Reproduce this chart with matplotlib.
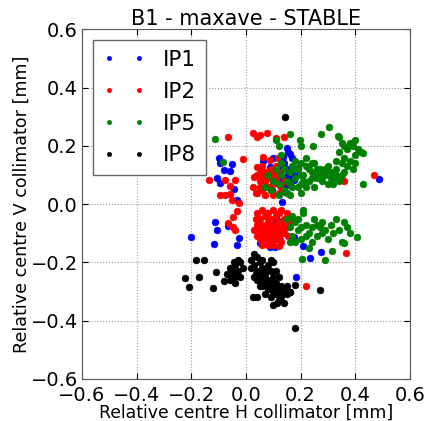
import matplotlib
matplotlib.use('Agg')
import matplotlib.pyplot as plt

# desplazamiento relativo del centro de los colimadores (H, V) en mm, por IP
ip1_h = [-0.20, -0.10, -0.095, -0.082, -0.107, -0.095, -0.115, -0.107, -0.116, -0.043,
         -0.033, -0.027, -0.033, -0.051, -0.058, -0.065, 0.488, 0.208, 0.235, 0.276,
         0.183, 0.131, 0.088, 0.108, 0.149, 0.161, 0.170, 0.137, 0.100, 0.064,
         0.113, 0.131, 0.149, 0.143, 0.076, 0.088, 0.161, 0.174, 0.192, 0.125,
         0.076, 0.064, 0.125, 0.137, 0.149, 0.113, 0.052, 0.174, 0.155, 0.120,
         0.140, 0.150, 0.165, 0.130, 0.105, 0.095, 0.180, 0.155]
ip1_v = [-0.114, 0.16, 0.14, 0.117, 0.089, 0.074, -0.062, -0.089, -0.137, 0.053,
         0.014, -0.115, -0.14, 0.138, 0.115, -0.074, 0.085, -0.142, -0.184, -0.165,
         -0.251, 0.009, -0.148, -0.146, 0.194, 0.172, 0.157, 0.163, 0.158, 0.147,
         0.106, 0.089, 0.066, 0.043, 0.106, 0.129, 0.117, 0.083, 0.123, 0.129,
         -0.031, -0.100, -0.123, -0.100, -0.077, -0.054, -0.134, -0.112, 0.100, 0.070,
         0.140, 0.120, 0.095, 0.060, 0.075, 0.050, 0.100, 0.180]

ip2_h = [-0.134, -0.065, -0.009, 0.027, 0.040, 0.052, 0.076, 0.110, 0.139, -0.075,
         -0.058, -0.040, -0.076, -0.058, -0.052, -0.094, -0.064, -0.046, -0.040, -0.031,
         -0.024, -0.046, 0.468, 0.359, 0.365, 0.220, 0.040, 0.031, 0.027, 0.040,
         0.064, 0.088, 0.119,
         0.05, 0.06, 0.07, 0.08, 0.09, 0.10, 0.11, 0.12, 0.13, 0.06,
         0.05, 0.07, 0.09, 0.10, 0.12, 0.08, 0.04, 0.11, 0.06, 0.14,
         0.035, 0.07, 0.10, 0.05,
         0.04, 0.05, 0.06, 0.07, 0.08, 0.09, 0.10, 0.11, 0.12, 0.13, 0.14, 0.15,
         0.04, 0.05, 0.06, 0.07, 0.08, 0.09, 0.10, 0.11, 0.12, 0.13, 0.14, 0.15,
         0.04, 0.05, 0.06, 0.07, 0.08, 0.09, 0.10, 0.11, 0.12, 0.13, 0.14, 0.06,
         0.08, 0.10, 0.12, 0.03, 0.035, 0.16, 0.155, 0.075, 0.095, 0.105,
         0.085, 0.115, 0.065, 0.125]
ip2_v = [0.083, 0.232, 0.156, 0.243, 0.232, 0.237, 0.243, 0.227, 0.232, 0.083,
         0.064, 0.083, 0.031, 0.035, 0.014, 0.031, -0.066, -0.043, -0.089, -0.022,
         0.003, -0.080, 0.101, 0.078, -0.169, -0.281, 0.129, 0.094, 0.060, 0.037,
         0.163, 0.152, 0.157,
         0.12, 0.10, 0.08, 0.06, 0.05, 0.07, 0.09, 0.11, 0.06, 0.05,
         0.08, 0.11, 0.12, 0.10, 0.04, 0.09, 0.10, 0.13, 0.13, 0.08,
         0.04, 0.03, 0.03, 0.06,
         -0.03, -0.05, -0.02, -0.04, -0.03, -0.05, -0.02, -0.04, -0.03, -0.02, -0.05, -0.03,
         -0.07, -0.09, -0.07, -0.08, -0.06, -0.09, -0.07, -0.08, -0.06, -0.09, -0.07, -0.08,
         -0.11, -0.12, -0.10, -0.12, -0.11, -0.13, -0.10, -0.12, -0.11, -0.13, -0.10, -0.14,
         -0.14, -0.14, -0.145, -0.09, -0.05, -0.06, -0.11, -0.10, -0.115, -0.09,
         -0.085, -0.10, -0.085, -0.085]

ip5_h = [0.12, 0.13, 0.14, 0.15, 0.16, 0.17, 0.18, 0.19, 0.20, 0.21,
         0.22, 0.23, 0.24, 0.25, 0.26, 0.27, 0.28, 0.29, 0.30, 0.31,
         0.32, 0.33, 0.34, 0.35, 0.36, 0.22, 0.24, 0.26, 0.28, 0.30,
         0.32, 0.20, 0.18, 0.16, 0.14, 0.10, 0.11, 0.09, 0.08, 0.07,
         0.27, 0.29, 0.31, 0.33, 0.25, 0.23, 0.21, 0.19, 0.17, 0.15,
         0.13, 0.18, 0.20, 0.22, 0.24, 0.16, 0.20, 0.12,
         0.33, 0.34, 0.35, 0.36, 0.37, 0.38, 0.39, 0.40, 0.41, 0.42,
         0.40, 0.38, 0.37, 0.39, 0.40, 0.36, 0.34, 0.35,
         -0.115, -0.084, 0.162, 0.196, 0.20, 0.247, 0.275, 0.304, 0.335, 0.427,
         0.43, 0.11, 0.12, 0.13, 0.25,
         0.15, 0.16, 0.17, 0.18, 0.19, 0.20, 0.21, 0.22, 0.23, 0.24,
         0.25, 0.26, 0.27, 0.28, 0.29, 0.30, 0.31, 0.32, 0.33, 0.34,
         0.35, 0.36, 0.37, 0.38, 0.20, 0.22, 0.24, 0.26, 0.28, 0.19,
         0.21, 0.17, 0.405, 0.204, 0.289, 0.314, 0.359, 0.18, 0.23, 0.16]
ip5_v = [0.07, 0.10, 0.05, 0.08, 0.11, 0.06, 0.09, 0.12, 0.07, 0.10,
         0.13, 0.08, 0.11, 0.06, 0.09, 0.12, 0.08, 0.10, 0.07, 0.11,
         0.09, 0.12, 0.08, 0.10, 0.11, 0.06, 0.09, 0.12, 0.11, 0.13,
         0.07, 0.10, 0.12, 0.07, 0.12, 0.08, 0.12, 0.05, 0.10, 0.06,
         0.10, 0.12, 0.09, 0.10, 0.10, 0.12, 0.08, 0.06, 0.13, 0.04,
         0.14, 0.15, 0.14, 0.16, 0.14, 0.03, 0.04, 0.03,
         0.15, 0.18, 0.14, 0.16, 0.19, 0.15, 0.20, 0.17, 0.19, 0.18,
         0.22, 0.21, 0.13, 0.12, 0.14, 0.20, 0.23, 0.21,
         0.224, 0.144, 0.240, 0.222, 0.20, 0.200, 0.240, 0.264, 0.234, 0.070,
         0.177, 0.22, 0.20, 0.17, 0.14,
         -0.05, -0.08, -0.11, -0.06, -0.09, -0.12, -0.03, -0.07, -0.10, -0.08,
         -0.05, -0.11, -0.08, -0.06, -0.09, -0.12, -0.07, -0.10, -0.05, -0.09,
         -0.13, -0.06, -0.08, -0.10, -0.08, -0.11, -0.13, -0.07, -0.10, -0.05,
         -0.02, -0.04, -0.114, -0.188, -0.192, -0.161, -0.132, -0.13, -0.15, -0.13]

ip8_h = [-0.07, -0.06, -0.05, -0.04, -0.03, -0.02, -0.04, -0.06, -0.03, -0.05,
         -0.02, -0.01, -0.08, -0.035, -0.045,
         0.03, 0.02, 0.03, 0.04, 0.05, 0.06, 0.04, 0.05, 0.06, 0.07,
         0.08, 0.09, 0.07, 0.08, 0.09, 0.10, 0.11, 0.12, 0.10, 0.11,
         0.13, 0.14, 0.15, 0.12, 0.13, 0.14, 0.10, 0.09, 0.06, 0.05,
         0.08, 0.07, 0.11, 0.12, 0.03, 0.04, 0.06, 0.09, 0.15, 0.16,
         0.10, 0.115, 0.02, 0.035, 0.055, 0.075, 0.095, 0.105, 0.125,
         0.143, 0.181, -0.222, -0.208, -0.182, -0.155, -0.171, -0.119, -0.110, 0.271,
         0.180, 0.162, 0.024, 0.039]
ip8_v = [-0.24, -0.22, -0.25, -0.21, -0.23, -0.20, -0.27, -0.26, -0.19, -0.23,
         -0.25, -0.22, -0.265, -0.245, -0.20,
         -0.17, -0.19, -0.21, -0.18, -0.20, -0.19, -0.23, -0.25, -0.22, -0.24,
         -0.21, -0.23, -0.27, -0.26, -0.28, -0.25, -0.27, -0.29, -0.30, -0.31,
         -0.28, -0.30, -0.31, -0.33, -0.32, -0.34, -0.20, -0.19, -0.26, -0.28,
         -0.29, -0.31, -0.23, -0.25, -0.25, -0.26, -0.28, -0.32, -0.28, -0.30,
         -0.345, -0.34, -0.22, -0.24, -0.235, -0.225, -0.265, -0.285, -0.305,
         0.30, -0.424, -0.253, -0.285, -0.192, -0.192, -0.249, -0.287, -0.234, -0.295,
         -0.277, -0.30, -0.318, -0.318]

etiquetas = ['IP1', 'IP2', 'IP5', 'IP8']
colores = ['b', 'r', 'g', 'k']
datos = [(ip1_h, ip1_v), (ip2_h, ip2_v), (ip5_h, ip5_v), (ip8_h, ip8_v)]

fig = plt.figure(figsize=(4.27, 4.21), dpi=100)
ax = fig.add_axes([0.192, 0.100, 0.768, 0.830])

for (h, v), c, lab in zip(datos, colores, etiquetas):
    ax.plot(h, v, 'o', color=c, markeredgecolor=c, markersize=5.0,
            markeredgewidth=0.3, label=lab)

ax.set_xlim(-0.6, 0.6)
ax.set_ylim(-0.6, 0.6)
ax.set_xticks([-0.6, -0.4, -0.2, 0.0, 0.2, 0.4, 0.6])
ax.set_yticks([-0.6, -0.4, -0.2, 0.0, 0.2, 0.4, 0.6])
ax.grid(True, color='0.6', linestyle=':', linewidth=0.8)
ax.tick_params(direction='in', labelsize=14, length=4, top=True, right=True)
ax.tick_params(axis='x', pad=5)
ax.tick_params(axis='y', pad=3)
for s in ax.spines.values():
    s.set_color('0.35')

ax.set_title('B1 - maxave - STABLE', fontsize=15, pad=3)
ax.set_xlabel('Relative centre H collimator [mm]', fontsize=12.4, labelpad=-1)
ax.set_ylabel('Relative centre V collimator [mm]', fontsize=12.6, labelpad=0)

leg = ax.legend(loc='upper left', numpoints=2, fontsize=15.5, markerscale=0.65,
                fancybox=False, framealpha=1, borderpad=0.45, handlelength=2.0,
                labelspacing=0.55, handletextpad=0.8, borderaxespad=0.5)
leg.get_frame().set_edgecolor('0.4')
leg.get_frame().set_linewidth(1.0)

fig.savefig('out.png', dpi=100)
